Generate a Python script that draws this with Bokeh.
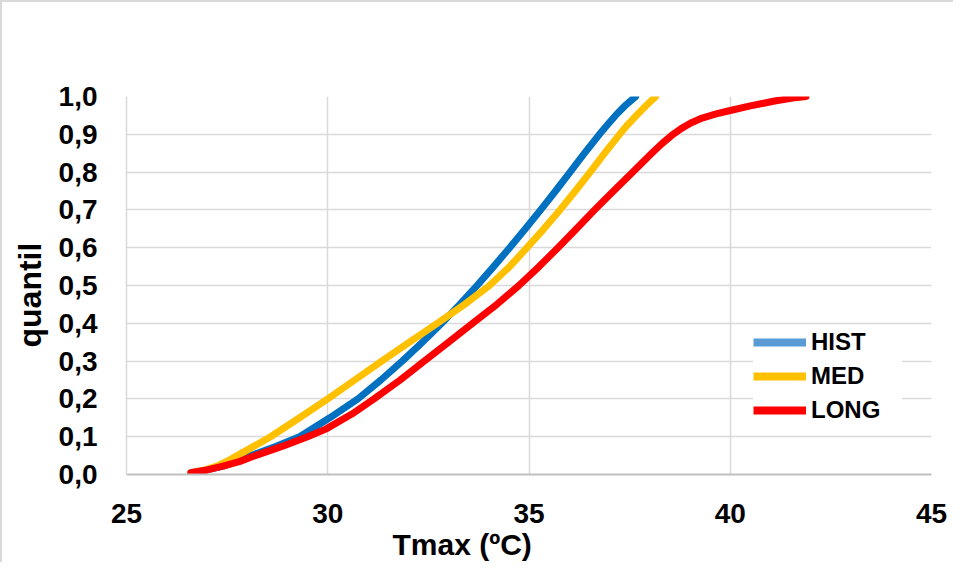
from bokeh.plotting import figure
from bokeh.models import (Range1d, FixedTicker, CustomJSTickFormatter, Legend, LegendItem, Title)
from bokeh.embed import file_html
from bokeh.resources import INLINE

# ---- data ----
hist_x = [26.6, 27.0, 27.4, 27.75, 28.1, 28.72, 29.3, 30.05, 30.75, 31.32, 31.85, 32.35, 32.83, 33.28,
          33.71, 34.12, 34.52, 34.91, 35.29, 35.66, 36.02, 36.38, 36.75, 36.95, 37.15, 37.38, 37.65]
hist_y = [0.005, 0.012, 0.022, 0.035, 0.05, 0.075, 0.1, 0.15, 0.2, 0.25, 0.3, 0.35, 0.4, 0.45,
          0.5, 0.55, 0.6, 0.65, 0.7, 0.75, 0.8, 0.85, 0.9, 0.925, 0.95, 0.975, 1.0]

med_x = [26.6, 26.95, 27.25, 27.5, 27.75, 28.17, 28.58, 29.3, 30.0, 30.67, 31.34, 32.03, 32.72, 33.4,
         34.02, 34.52, 34.95, 35.37, 35.77, 36.15, 36.52, 36.88, 37.25, 37.45, 37.67, 37.9, 38.15]
med_y = [0.005, 0.012, 0.022, 0.035, 0.05, 0.075, 0.1, 0.15, 0.2, 0.25, 0.3, 0.35, 0.4, 0.45,
         0.5, 0.55, 0.6, 0.65, 0.7, 0.75, 0.8, 0.85, 0.9, 0.925, 0.95, 0.975, 1.0]

long_x = [26.6, 27.0, 27.4, 27.8, 28.2, 28.88, 29.5, 29.95, 30.6, 31.15, 31.8, 32.4, 33.0, 33.6, 34.2,
          34.75, 35.25, 35.72, 36.18, 36.63, 37.1, 37.58, 38.05, 38.3, 38.58, 38.78, 39.02, 39.3,
          39.65, 40.0, 40.5, 41.1, 41.55, 41.88]
long_y = [0.005, 0.012, 0.022, 0.034, 0.05, 0.075, 0.1, 0.12, 0.16, 0.2, 0.25, 0.3, 0.35, 0.4, 0.45,
          0.5, 0.55, 0.6, 0.65, 0.7, 0.75, 0.8, 0.85, 0.875, 0.9, 0.915, 0.93, 0.943,
          0.954, 0.963, 0.975, 0.988, 0.996, 1.0]

series_names = ["HIST", "MED", "LONG"]
line_colors = ["#0070C0", "#FFC000", "#FF0000"]
legend_colors = ["#5B9BD5", "#FFC000", "#FF0000"]

x_ticks = [25, 30, 35, 40, 45]
y_ticks = [0.0, 0.1, 0.2, 0.3, 0.4, 0.5, 0.6, 0.7, 0.8, 0.9, 1.0]
x_title = "Tmax (ºC)"
y_title = "quantil"

FONT = "Liberation Sans"

p = figure(width=953, height=562, output_backend="svg", toolbar_location=None,
           x_range=Range1d(25, 45), y_range=Range1d(0, 1),
           min_border_left=126, min_border_top=96, min_border_right=22, min_border_bottom=88)

p.border_fill_alpha = 0
p.styles = {"box-shadow": "inset 2px 2px 0 0 #d9d9d9"}
p.outline_line_color = None
p.background_fill_color = "white"

# grid
p.xgrid.ticker = FixedTicker(ticks=x_ticks)
p.ygrid.ticker = FixedTicker(ticks=y_ticks)
for g in (p.xgrid, p.ygrid):
    g.grid_line_color = "#d9d9d9"
    g.grid_line_width = 1.5

# axes
p.xaxis.ticker = FixedTicker(ticks=x_ticks)
p.yaxis.ticker = FixedTicker(ticks=y_ticks)
p.yaxis.formatter = CustomJSTickFormatter(code="return tick.toFixed(1).replace('.', ',');")
for ax in (p.xaxis, p.yaxis):
    ax.major_tick_line_color = None
    ax.minor_tick_line_color = None
    ax.major_label_text_font = FONT
    ax.major_label_text_font_style = "bold"
    ax.major_label_text_font_size = "28px"
    ax.major_label_text_color = "black"
    ax.major_label_standoff = 23
p.xaxis.axis_line_color = "#bfbfbf"
p.xaxis.axis_line_width = 2
p.yaxis.axis_line_color = "#d9d9d9"
p.yaxis.axis_line_width = 1.5

# axis titles (placed off-centre as in the reference)
p.add_layout(Title(text=x_title, align="left", offset=266, standoff=0,
                   text_font=FONT, text_font_style="bold", text_font_size="30px",
                   text_color="black"), "below")
p.add_layout(Title(text=y_title, align="left", offset=127, standoff=16,
                   text_font=FONT, text_font_style="bold", text_font_size="32px",
                   text_color="black"), "left")

xs = [hist_x, med_x, long_x]
ys = [hist_y, med_y, long_y]
for x, y, c in zip(xs, ys, line_colors):
    p.line(x, y, line_color=c, line_width=7, line_cap="round", line_join="round")

# legend proxies (hidden copies; the legend swatch colours differ from the plotted HIST line)
proxies = []
for x, y, c in zip(xs, ys, legend_colors):
    pr = p.line(x, y, line_color=c, line_width=8)
    pr.visible = False
    proxies.append(pr)

legend = Legend(items=[LegendItem(label=n, renderers=[pr]) for n, pr in zip(series_names, proxies)],
                location=(627, 47), orientation="vertical",
                label_text_font=FONT, label_text_font_style="bold", label_text_font_size="24px",
                label_text_color="black", label_standoff=5, glyph_width=53, glyph_height=34,
                label_height=34, label_width=91, spacing=0, padding=11, margin=0,
                border_line_color=None, background_fill_color="white", background_fill_alpha=1,
                inactive_fill_alpha=0, click_policy="none")
p.add_layout(legend, "center")

open("out.html", "w").write(file_html(p, INLINE))
